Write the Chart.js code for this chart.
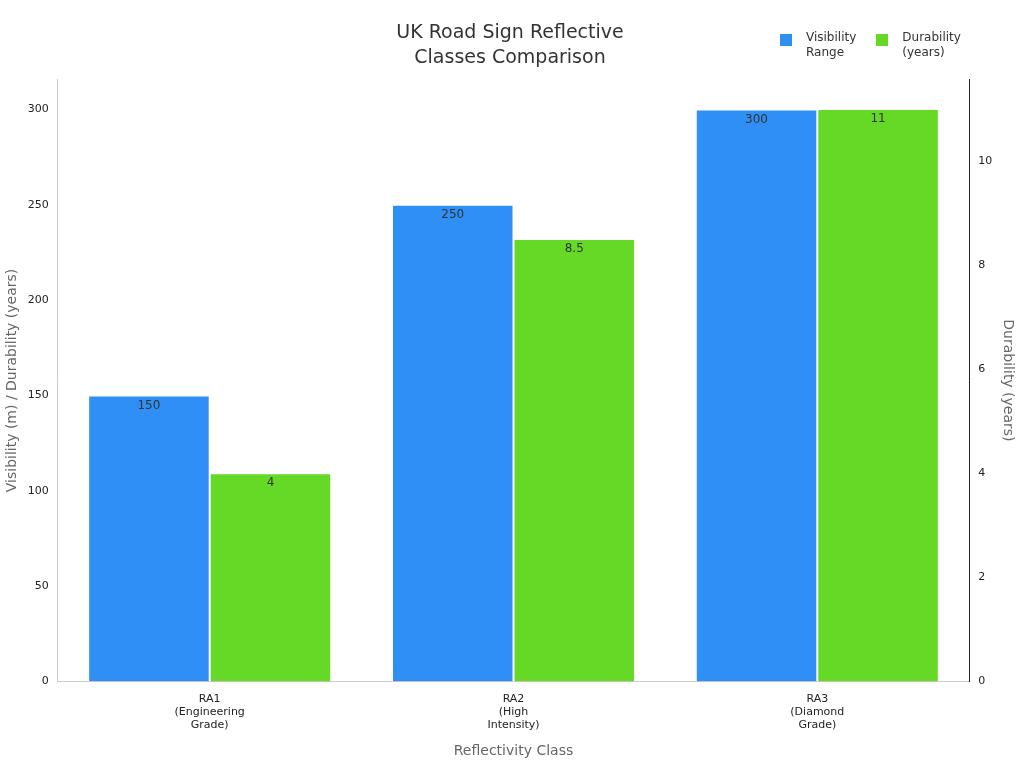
<!DOCTYPE html>
<html>
<head>
<meta charset="utf-8">
<script src="https://cdn.jsdelivr.net/npm/chart.js@4"></script>
<style>
  body { margin: 0; background: #fff; font-family: "DejaVu Sans", sans-serif; }
  #wrap { position: relative; width: 1024px; height: 768px; }
  #legend { position: absolute; top: 30px; left: 780px; display: flex; gap: 20px; font-size: 12px; color: #333; }
  #legend div { display: flex; align-items: flex-start; line-height: 15px; }
  #legend span.box { width: 12px; height: 12px; margin: 4px 14px 0 0; display: inline-block; }
</style>
</head>
<body>
<div id="wrap">
  <canvas id="c" width="1024" height="768"></canvas>
  <div id="legend"></div>
</div>
<script>
const categories = [['RA1', '(Engineering', 'Grade)'], ['RA2', '(High', 'Intensity)'], ['RA3', '(Diamond', 'Grade)']];
const visibility = [150, 250, 300];
const durability = [4, 8.5, 11];
const seriesNames = [['Visibility', 'Range'], ['Durability', '(years)']];
const colors = ['#2f8ff5', '#66d926'];

document.getElementById('legend').innerHTML = seriesNames.map((n, i) =>
  `<div><span class="box" style="background:${colors[i]}"></span><span>${n.join('<br>')}</span></div>`).join('');

const valueLabels = {
  id: 'valueLabels',
  afterDatasetsDraw(chart) {
    const ctx = chart.ctx;
    ctx.save();
    ctx.font = '12px "DejaVu Sans"';
    ctx.fillStyle = '#333';
    ctx.textAlign = 'center';
    ctx.textBaseline = 'top';
    chart.data.datasets.forEach((ds, di) => {
      chart.getDatasetMeta(di).data.forEach((bar, i) => {
        ctx.fillText(String(ds.data[i]), bar.x, bar.y + 4);
      });
    });
    ctx.restore();
  }
};

const keepSteps = step => axis => { axis.ticks = axis.ticks.filter(t => Math.abs(t.value / step - Math.round(t.value / step)) < 1e-6); };

new Chart(document.getElementById('c'), {
  type: 'bar',
  data: {
    labels: categories,
    datasets: [
      { label: 'Visibility Range', data: visibility, backgroundColor: colors[0], borderColor: '#fff', borderWidth: 1, yAxisID: 'y' },
      { label: 'Durability (years)', data: durability, backgroundColor: colors[1], borderColor: '#fff', borderWidth: 1, yAxisID: 'y1' }
    ]
  },
  options: {
    responsive: false,
    animation: false,
    categoryPercentage: 0.8,
    barPercentage: 1,
    layout: { padding: { left: 0, right: 4, bottom: 4 } },
    plugins: {
      legend: { display: false },
      tooltip: { enabled: false },
      title: {
        display: true,
        text: ['UK Road Sign Reflective', 'Classes Comparison'],
        color: '#333',
        font: { family: 'DejaVu Sans', size: 19, weight: 'normal', lineHeight: 1.35 },
        padding: { top: 20, bottom: 8 }
      }
    },
    scales: {
      x: {
        grid: { display: false },
        border: { color: '#ccc' },
        ticks: { color: '#222', font: { family: 'DejaVu Sans', size: 11 } },
        title: { display: true, text: 'Reflectivity Class', color: '#666', font: { family: 'DejaVu Sans', size: 14 }, padding: { top: 8 } }
      },
      y: {
        position: 'left',
        min: 0, max: 315.8,
        afterBuildTicks: keepSteps(50),
        grid: { display: false, drawTicks: true, tickLength: 6 },
        border: { color: '#ccc' },
        ticks: { stepSize: 50, color: '#222', font: { family: 'DejaVu Sans', size: 11 } },
        title: { display: true, text: 'Visibility (m) / Durability (years)', color: '#666', font: { family: 'DejaVu Sans', size: 14 } }
      },
      y1: {
        position: 'right',
        min: 0, max: 11.57,
        afterBuildTicks: keepSteps(2),
        grid: { display: false, tickLength: 6 },
        border: { color: '#222' },
        ticks: { stepSize: 2, color: '#222', font: { family: 'DejaVu Sans', size: 11 } },
        title: { display: true, text: 'Durability (years)', color: '#666', font: { family: 'DejaVu Sans', size: 14 } }
      }
    }
  },
  plugins: [valueLabels]
});
</script>
</body>
</html>
